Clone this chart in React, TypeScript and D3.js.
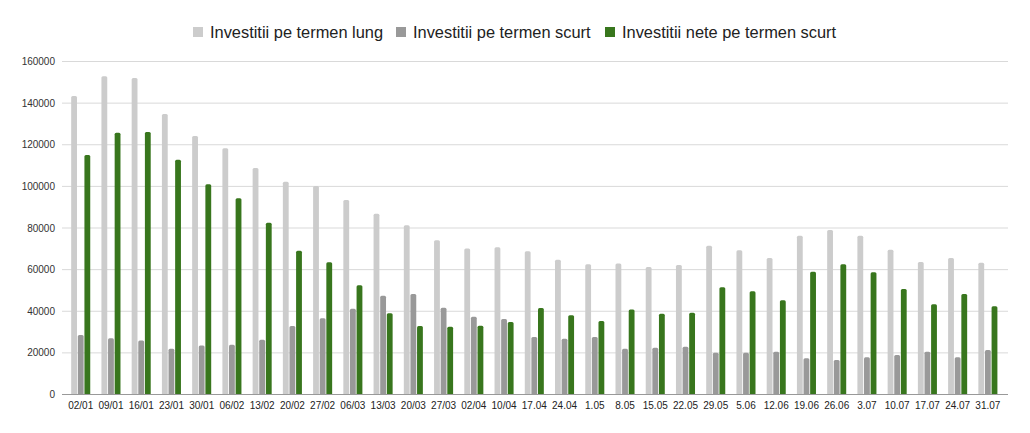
import React from "react";
import * as d3 from "d3";

const categories = ["02/01","09/01","16/01","23/01","30/01","06/02","13/02","20/02","27/02","06/03","13/03","20/03","27/03","02/04","10/04","17.04","24.04","1.05","8.05","15.05","22.05","29.05","5.06","12.06","19.06","26.06","3.07","10.07","17.07","24.07","31.07"];

const seriesNames = ["Investitii pe termen lung","Investitii pe termen scurt","Investitii nete pe termen scurt"];
const seriesColors = ["#cccccc","#999999","#38761d"];

const termenLung = [143400,152900,152100,134800,124200,118300,108800,102200,100200,93450,86800,81300,74100,70200,70700,68800,64800,62550,63000,61250,62200,71500,69300,65600,76300,79000,76300,69600,63650,65600,63350];
const termenScurt = [28600,27000,25900,22000,23600,23900,26300,32900,36600,41250,47500,48300,41700,37400,36300,27600,26800,27600,22000,22500,23000,20100,20100,20600,17400,16600,17850,19000,20600,17850,21400];
const neteScurt = [115100,125800,126100,112800,101000,94250,82550,69100,63500,52450,39000,32900,32600,33000,34800,41550,38050,35300,40900,38850,39300,51500,49600,45250,59000,62550,58700,50700,43330,48300,42380];

const yTicks = [0,20000,40000,60000,80000,100000,120000,140000,160000];

const W = 1030, H = 433;
const FONT = "'Liberation Sans', Arial, sans-serif";

function topRounded(x: number, y: number, w: number, h: number, r: number) {
  const rr = Math.min(r, w / 2, h);
  return `M${x},${y + h}V${y + rr}Q${x},${y} ${x + rr},${y}H${x + w - rr}Q${x + w},${y} ${x + w},${y + rr}V${y + h}Z`;
}

export default function App() {
  const data = [termenLung, termenScurt, neteScurt];
  const y = d3.scaleLinear().domain([0, 160000]).range([394.5, 61.5]);
  const x0 = d3.scaleBand<string>().domain(categories).range([65.6, 1003]).paddingInner(0.37).paddingOuter(0.185);
  const x1 = d3.scaleBand<number>().domain([0, 1, 2]).range([0, x0.bandwidth()]).paddingInner(0.12);

  const legendX = [193, 396, 605];

  return (
    <svg width={W} height={H} style={{ position: "absolute", left: 0, top: 0, background: "#fff" }} fontFamily={FONT}>
      <rect width={W} height={H} fill="#fff" />
      {/* legend */}
      {seriesNames.map((s, i) => (
        <g key={s}>
          <rect x={legendX[i]} y={27} width={10} height={10} fill={seriesColors[i]} />
          <text x={legendX[i] + 17} y={37.5} fontSize={16.4} fill="#222">{s}</text>
        </g>
      ))}
      {/* grid */}
      {yTicks.map((t) => (
        <g key={t}>
          {t !== 0 && <line x1={62} x2={1008} y1={y(t)} y2={y(t)} stroke="#d9d9d9" strokeWidth={1} />}
          <text x={55} y={y(t) + 3.5} fontSize={10} fill="#333" textAnchor="end">{t}</text>
        </g>
      ))}
      {/* bars */}
      {categories.map((c, ci) => (
        <g key={c} transform={`translate(${x0(c)},0)`}>
          {data.map((arr, si) => {
            const v = arr[ci];
            const bx = x1(si)!;
            const by = y(v);
            return <path key={si} d={topRounded(bx, by, x1.bandwidth(), y(0) - by, 1.5)} fill={seriesColors[si]} />;
          })}
          <text x={x0.bandwidth() / 2} y={409} fontSize={10} fill="#222" textAnchor="middle">{c}</text>
        </g>
      ))}
      <line x1={62} x2={1008} y1={y(0)} y2={y(0)} stroke="#999" strokeWidth={1} />
    </svg>
  );
}
